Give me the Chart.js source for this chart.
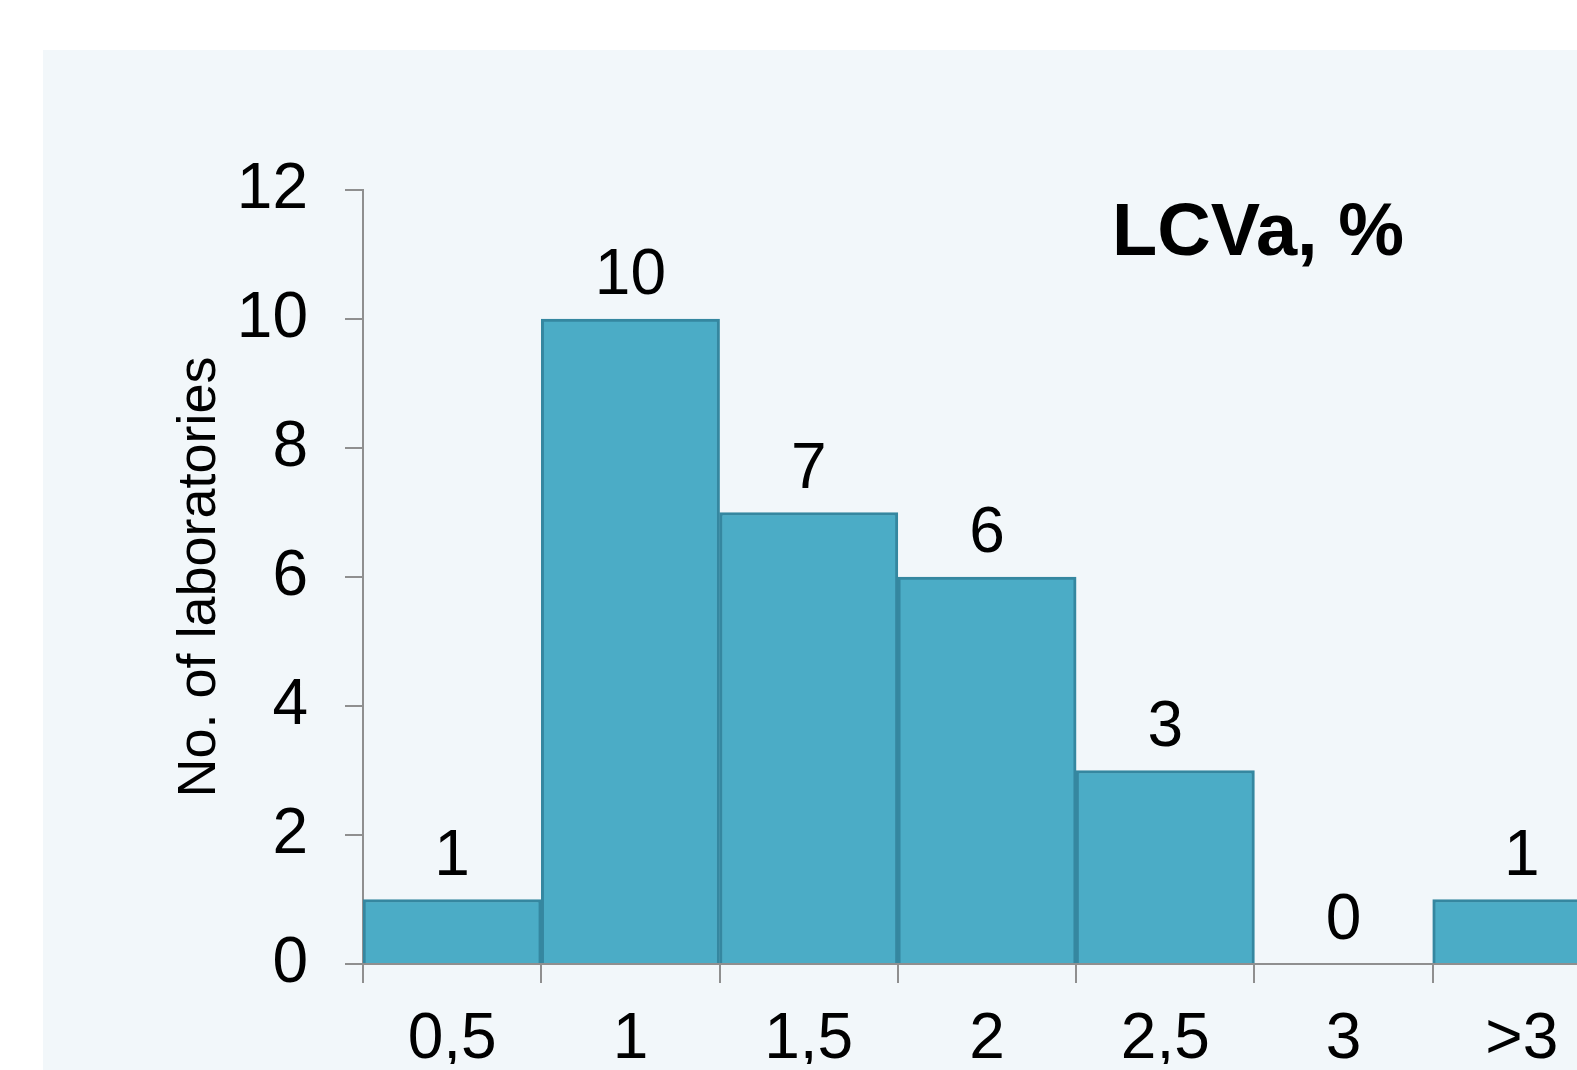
<!DOCTYPE html>
<html lang="en">
<head>
    <meta charset="UTF-8">
    <title>LCVa, % - No. of laboratories</title>
    <script src="https://cdn.jsdelivr.net/npm/chart.js"></script>
    <style>
        html, body { margin: 0; padding: 0; background: #ffffff; overflow: hidden; }
        #wrap { position: absolute; left: 0; top: 0; width: 1577px; height: 1070px; overflow: hidden; }
        #histChart { position: absolute; left: 0; top: 0; }
    </style>
</head>
<body>
    <div id="wrap">
        <canvas id="histChart" width="1700" height="1150"></canvas>
    </div>
    <script>
        // data
        const bins = ['0,5', '1', '1,5', '2', '2,5', '3', '>3'];
        const labCounts = [1, 10, 7, 6, 3, 0, 1];
        const yTicks = [0, 2, 4, 6, 8, 10, 12];
        const chartTitle = 'LCVa, %';
        const yTitle = 'No. of laboratories';

        const fontFamily = "'Liberation Sans', Arial, Helvetica, sans-serif";
        Chart.defaults.font.family = fontFamily;
        Chart.defaults.color = '#000000';

        const axisGray = '#8f8f8f';

        // light panel behind the chart
        const panelPlugin = {
            id: 'panel',
            beforeDraw(chart) {
                const ctx = chart.ctx;
                ctx.save();
                ctx.fillStyle = '#f2f7fa';
                ctx.fillRect(43, 50, chart.width - 43, chart.height - 50);
                ctx.restore();
            }
        };

        // value above each bar + the title inside the plot
        const labelPlugin = {
            id: 'barLabels',
            afterDatasetsDraw(chart) {
                const ctx = chart.ctx;
                const meta = chart.getDatasetMeta(0);
                ctx.save();
                ctx.fillStyle = '#000';
                ctx.textAlign = 'center';
                ctx.textBaseline = 'alphabetic';
                ctx.font = '64px ' + fontFamily;
                meta.data.forEach((bar, i) => {
                    ctx.fillText(String(labCounts[i]), bar.x, bar.y - 25);
                });

                const area = chart.chartArea;
                ctx.font = 'bold 74px ' + fontFamily;
                ctx.fillText(chartTitle, area.left + 895, area.top + 65);
                ctx.restore();
            }
        };

        new Chart(document.getElementById('histChart'), {
            type: 'bar',
            data: {
                labels: bins,
                datasets: [{
                    label: yTitle,
                    data: labCounts,
                    backgroundColor: '#4bacc6',
                    borderColor: '#3587a0',
                    borderWidth: 3,
                    borderSkipped: 'bottom',
                    barPercentage: 1.0,
                    categoryPercentage: 1.0
                }]
            },
            options: {
                responsive: false,
                animation: false,
                layout: {
                    padding: { left: 168, top: 190, right: 89, bottom: 86 }
                },
                plugins: {
                    legend: { display: false },
                    tooltip: { enabled: false }
                },
                scales: {
                    x: {
                        grid: {
                            offset: true,
                            drawOnChartArea: false,
                            drawTicks: true,
                            tickLength: 19,
                            color: axisGray,
                            lineWidth: 2
                        },
                        border: { color: axisGray, width: 2 },
                        ticks: {
                            font: { size: 64 },
                            padding: 19,
                            maxRotation: 0,
                            autoSkip: false
                        },
                        afterFit(scale) { scale.height = 100; }
                    },
                    y: {
                        min: 0,
                        max: 12,
                        afterBuildTicks(scale) {
                            scale.ticks = yTicks.map(v => ({ value: v }));
                        },
                        grid: {
                            drawOnChartArea: false,
                            drawTicks: true,
                            tickLength: 18,
                            color: axisGray,
                            lineWidth: 2
                        },
                        border: { color: axisGray, width: 2 },
                        ticks: {
                            font: { size: 64 },
                            padding: 37
                        },
                        title: {
                            display: true,
                            text: yTitle,
                            font: { size: 54 },
                            padding: 0
                        },
                        afterFit(scale) { scale.width = 195; }
                    }
                }
            },
            plugins: [panelPlugin, labelPlugin]
        });
    </script>
</body>
</html>
